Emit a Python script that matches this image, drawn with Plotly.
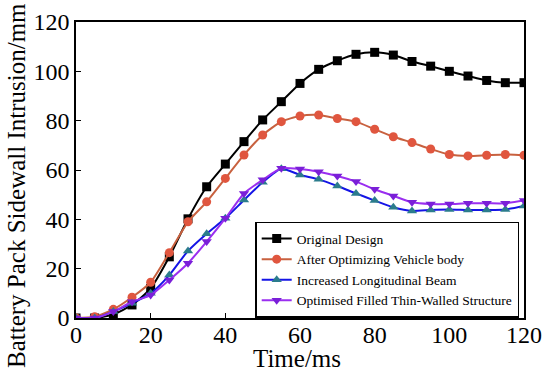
import plotly.graph_objects as go

time_ms = [0, 5, 10, 15, 20, 25, 30, 35, 40, 45, 50, 55, 60, 65, 70, 75, 80, 85, 90, 95, 100, 105, 110, 115, 120]

original_design = [0, 0, 1.5, 5.3, 12, 24.8, 40.2, 53.2, 62.4, 71.5, 80.3, 87.7, 95.1, 100.8, 104.3, 106.9, 107.7, 106.6, 104.0, 102.1, 100.0, 98.1, 96.3, 95.4, 95.4]
after_optimizing = [0, 0.5, 3.5, 8.4, 14.5, 26.5, 39.0, 47.1, 56.6, 66.1, 74.2, 79.6, 81.9, 82.3, 80.9, 79.6, 76.5, 73.5, 71.1, 68.5, 66.3, 65.7, 66.0, 66.3, 66.0]
increased_beam = [0, 0, 2.6, 6.0, 10.0, 17.4, 27.2, 34.2, 40.4, 47.8, 55.0, 60.5, 58.0, 56.2, 53.5, 50.5, 47.6, 44.9, 43.4, 43.8, 44.0, 43.8, 43.8, 44.0, 45.4]
filled_thin_walled = [0, 0, 2.6, 6.6, 9.3, 15.4, 22.2, 31.0, 40.4, 50.5, 56.0, 60.7, 60.4, 59.3, 57.6, 55.3, 52.2, 49.5, 46.9, 46.2, 46.2, 46.5, 46.5, 46.5, 47.6]

series_names = ["Original Design", "After Optimizing Vehicle body",
                "Increased Longitudinal Beam", "Optimised Filled Thin-Walled Structure"]

x_ticks = [0, 20, 40, 60, 80, 100, 120]
y_ticks = [0, 20, 40, 60, 80, 100, 120]

x_title = "Time/ms"
y_title = "Battery Pack Sidewall Intrusion/mm"

serif = "Liberation Serif"

styles = [
    dict(line="#000000", marker="#000000", symbol="square"),
    dict(line="#c8613f", marker="#e0563f", symbol="circle"),
    dict(line="#1414e6", marker="#2b7c8c", symbol="triangle-up"),
    dict(line="#9a2ef0", marker="#7a1fd8", symbol="triangle-down"),
]

fig = go.Figure()
for name, ys, st in zip(series_names,
                        [original_design, after_optimizing, increased_beam, filled_thin_walled],
                        styles):
    fig.add_trace(go.Scatter(
        x=time_ms, y=ys, name=name, mode="lines+markers",
        line=dict(color=st["line"], width=2, shape="spline", smoothing=0.6),
        marker=dict(color=st["marker"], symbol=st["symbol"], size=9,
                    line=dict(width=0)),
    ))

axis_common = dict(
    showline=True, linecolor="black", linewidth=1.5, mirror=True,
    ticks="inside", ticklen=5, tickwidth=1.2, tickcolor="black",
    showgrid=False, zeroline=False, automargin=False,
    tickfont=dict(family=serif, size=24, color="black"),
)

fig.update_layout(
    width=550, height=381,
    paper_bgcolor="white", plot_bgcolor="white",
    margin=dict(l=76, r=26, t=22, b=63),
    font=dict(family=serif, color="black"),
    xaxis=dict(range=[0, 120], tickvals=x_ticks, ticklabelstandoff=-6, **axis_common),
    yaxis=dict(range=[0, 120], tickvals=y_ticks, **axis_common),
    legend=dict(x=0.40, y=0.325, xanchor="left", yanchor="top",
                bgcolor="white", bordercolor="black", borderwidth=1.5,
                font=dict(family=serif, size=13.5, color="black"),
                tracegroupgap=0, itemwidth=30),
    showlegend=True,
    annotations=[
        dict(text=x_title, xref="paper", yref="paper", x=0.493, y=0,
             xanchor="center", yanchor="top", yshift=-25, showarrow=False,
             font=dict(family=serif, size=25, color="black")),
        dict(text=y_title, xref="paper", yref="paper", x=0, y=0.446,
             xanchor="center", yanchor="middle", xshift=-59, textangle=-90,
             showarrow=False, font=dict(family=serif, size=25, color="black")),
    ],
)

fig.write_html("out.html", config={"displayModeBar": False},
               post_script="document.body.style.margin='0';document.body.style.padding='0';document.body.style.overflow='hidden';")
